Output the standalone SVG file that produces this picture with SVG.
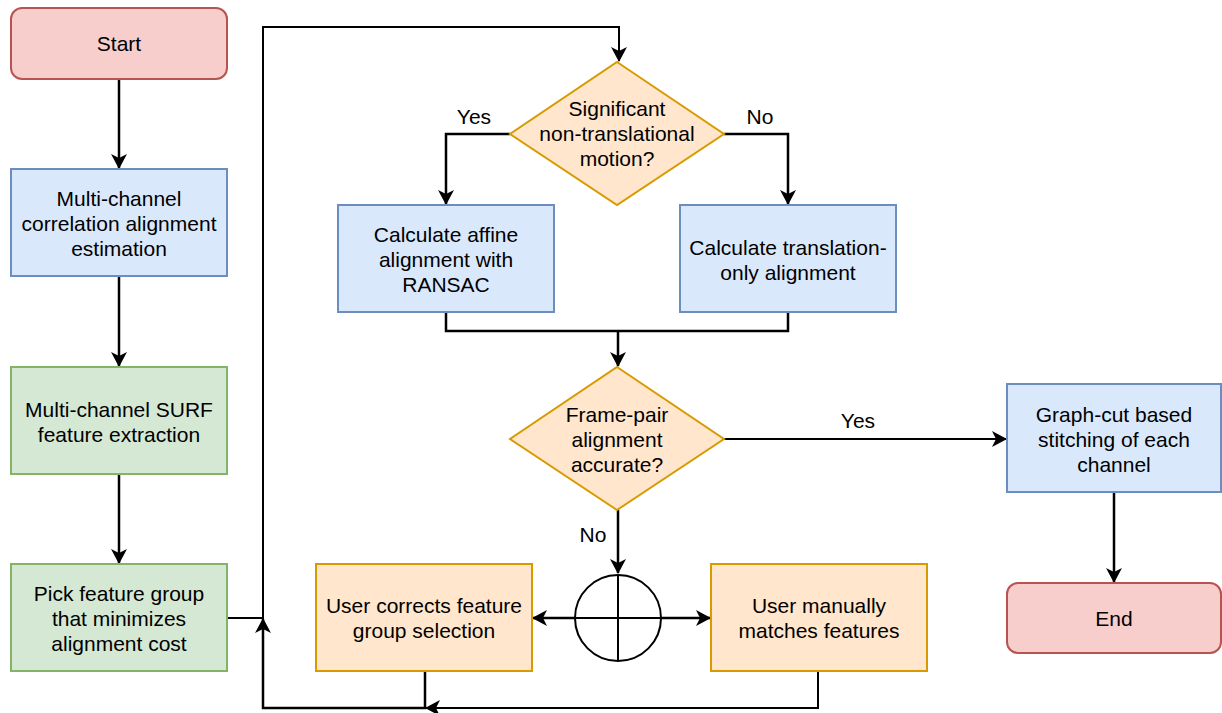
<svg xmlns="http://www.w3.org/2000/svg" width="1222" height="713" viewBox="0 0 1222 713">
<style>
text{font-family:"Liberation Sans",Arial,sans-serif;font-size:21px;fill:#000;text-anchor:middle}
.red{fill:#f8cecc;stroke:#b85450;stroke-width:2}
.blue{fill:#dae8fc;stroke:#6c8ebf;stroke-width:2}
.green{fill:#d5e8d4;stroke:#82b366;stroke-width:2}
.orange{fill:#ffe6cc;stroke:#d79b00;stroke-width:2}
.c{fill:none;stroke:#000;stroke-width:2.5}
.t{fill:none;stroke:#000;stroke-width:2}
</style>
<defs>
<marker id="a" viewBox="0 0 15 16" refX="14" refY="8" markerWidth="15" markerHeight="16" markerUnits="userSpaceOnUse" orient="auto">
<path d="M0,0 L15,8 L0,16 L4,8 Z" fill="#000"/>
</marker>
</defs>
<rect width="1222" height="713" fill="#fff"/>
<g id="connectors">
<path class="c" d="M119,79 V168" marker-end="url(#a)"/>
<path class="c" d="M119,276 V366" marker-end="url(#a)"/>
<path class="c" d="M119,474 V563" marker-end="url(#a)"/>
<path class="t" d="M227,618 H263 V27 H619 V61" marker-end="url(#a)"/>
<path class="c" d="M510,134 H446 V204" marker-end="url(#a)"/>
<path class="c" d="M724,134 H788 V204" marker-end="url(#a)"/>
<path class="c" d="M446,312 V331 H788 V312"/>
<path class="c" d="M618,331 V366" marker-end="url(#a)"/>
<path class="t" d="M724,439 H1006" marker-end="url(#a)"/>
<path class="c" d="M1114,492 V582" marker-end="url(#a)"/>
<path class="c" d="M618,510 V573" marker-end="url(#a)"/>
<path class="c" d="M618,618 H533" marker-end="url(#a)"/>
<path class="c" d="M618,618 H710" marker-end="url(#a)"/>
<path class="c" d="M425,671 V708 H263 V619" marker-end="url(#a)"/>
<path class="t" d="M818,671 V708 H426" marker-end="url(#a)"/>
<text x="474" y="124">Yes</text>
<text x="760" y="124">No</text>
<text x="858" y="428">Yes</text>
<text x="593" y="542">No</text>
</g>
<g id="start"><rect class="red" x="11" y="8" width="216" height="71" rx="11"/><text x="119" y="51">Start</text></g>
<g id="mc-corr"><rect class="blue" x="11" y="169" width="216" height="107"/><text x="119" y="206">Multi-channel</text><text x="119" y="231">correlation alignment</text><text x="119" y="256">estimation</text></g>
<g id="mc-surf"><rect class="green" x="11" y="367" width="216" height="107"/><text x="119" y="417">Multi-channel SURF</text><text x="119" y="442">feature extraction</text></g>
<g id="pick"><rect class="green" x="11" y="564" width="216" height="107"/><text x="119" y="601">Pick feature group</text><text x="119" y="626">that minimizes</text><text x="119" y="651">alignment cost</text></g>
<g id="d1"><path class="orange" d="M617,62 L724,134 L617,205 L510,134 Z"/><text x="617" y="116">Significant</text><text x="617" y="141">non-translational</text><text x="617" y="166">motion?</text></g>
<g id="affine"><rect class="blue" x="338" y="205" width="216" height="107"/><text x="446" y="242">Calculate affine</text><text x="446" y="267">alignment with</text><text x="446" y="292">RANSAC</text></g>
<g id="trans"><rect class="blue" x="680" y="205" width="216" height="107"/><text x="788" y="255">Calculate translation-</text><text x="788" y="280">only alignment</text></g>
<g id="d2"><path class="orange" d="M617,367 L724,439 L617,510 L510,439 Z"/><text x="617" y="422">Frame-pair</text><text x="617" y="447">alignment</text><text x="617" y="472">accurate?</text></g>
<g id="graphcut"><rect class="blue" x="1007" y="384" width="214" height="108"/><text x="1114" y="422">Graph-cut based</text><text x="1114" y="447">stitching of each</text><text x="1114" y="472">channel</text></g>
<g id="end"><rect class="red" x="1007" y="583" width="214" height="70" rx="11"/><text x="1114" y="626">End</text></g>
<g id="or"><circle cx="618" cy="618" r="43" fill="#fff" stroke="#000" stroke-width="2"/><path d="M575,618 H661 M618,575 V661" stroke="#000" stroke-width="2"/></g>
<g id="usercorr"><rect class="orange" x="316" y="564" width="216" height="107"/><text x="424" y="613">User corrects feature</text><text x="424" y="638">group selection</text></g>
<g id="usermatch"><rect class="orange" x="711" y="564" width="216" height="107"/><text x="819" y="613">User manually</text><text x="819" y="638">matches features</text></g>
</svg>
